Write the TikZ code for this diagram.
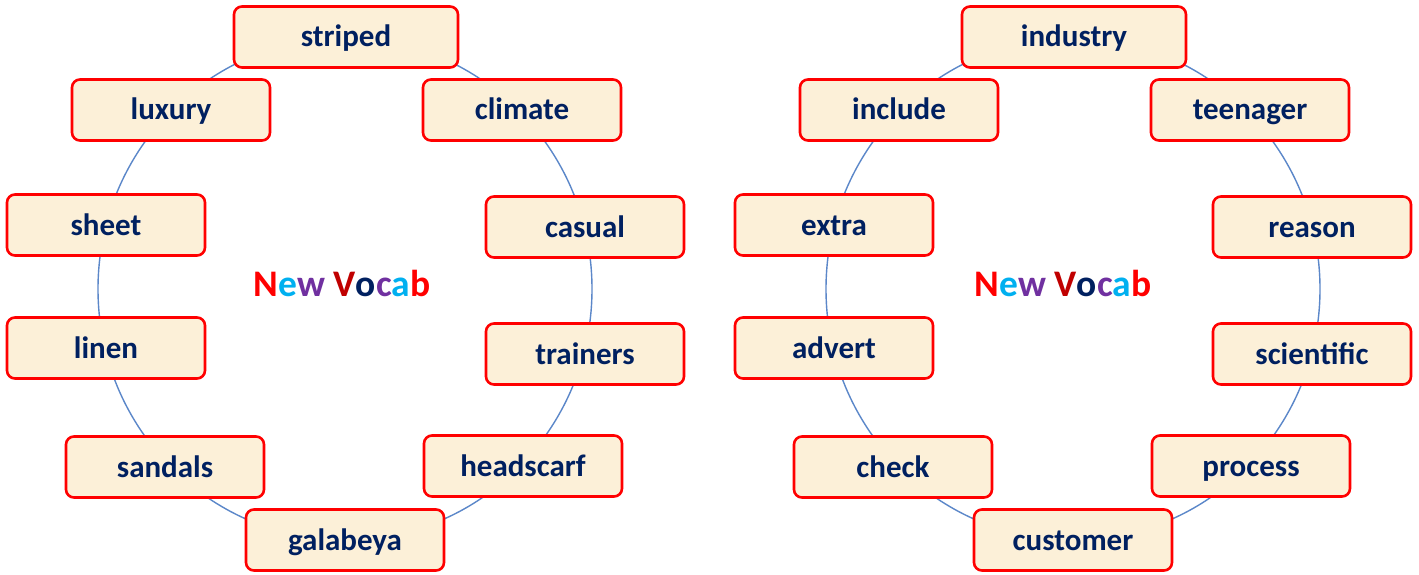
\documentclass[tikz,border=0pt]{standalone}
\usepackage{fontspec}
\setmainfont{Carlito}
\definecolor{navy}{HTML}{002060}
\definecolor{boxfill}{RGB}{252,240,216}
\definecolor{ringblue}{HTML}{5B87C9}
\definecolor{vred}{HTML}{FF0000}
\definecolor{vblue}{HTML}{00B0F0}
\definecolor{vpurple}{HTML}{7030A0}
\definecolor{vdred}{HTML}{C00000}
\begin{document}
\begin{tikzpicture}[x=1pt,y=-1pt,
  word/.style={draw=red, line width=2.6pt, fill=boxfill, rounded corners=8pt,
    minimum width=198pt, minimum height=61pt, inner sep=0pt,
    text height=22.5pt, text depth=2.5pt,
    font=\fontsize{31}{36}\selectfont\bfseries, text=navy},
  wide/.style={minimum width=224pt},
  ring/.style={draw=ringblue, line width=1.4pt},
  title/.style={font=\fontsize{37.5}{42}\selectfont\bfseries}]
\useasboundingbox (0,0) rectangle (1419,575);
\fill[white] (0,0) rectangle (1419,575);
% rings
\draw[ring] (345,289) ellipse [x radius=247, y radius=251];
\draw[ring] (1073,289) ellipse [x radius=247, y radius=251];
% left
\node[word,wide] (striped) at (346,37) {striped};
\node[word] (luxury) at (171,110) {luxury};
\node[word] (climate) at (522,110) {climate};
\node[word] (sheet) at (106,225) {sheet};
\node[word] (casual) at (585,227) {casual};
\node[word] (linen) at (106,348) {linen};
\node[word] (trainers) at (585,354) {trainers};
\node[word] (sandals) at (165,467) {sandals};
\node[word] (headscarf) at (523,466) {headscarf};
\node[word] (galabeya) at (345,540) {galabeya};
\node[title] (t1) at (342,283) {\textcolor{vred}{N}\textcolor{vblue}{e}\textcolor{vpurple}{w} \textcolor{vdred}{V}\textcolor{navy}{o}\textcolor{vpurple}{c}\textcolor{vblue}{a}\textcolor{vred}{b}};
% right
\node[word,wide] (industry) at (1074,37) {industry};
\node[word] (include) at (899,110) {include};
\node[word] (teenager) at (1250,110) {teenager};
\node[word] (extra) at (834,225) {extra};
\node[word] (reason) at (1312,227) {reason};
\node[word] (advert) at (834,348) {advert};
\node[word] (scientific) at (1312,354) {scientific};
\node[word] (check) at (893,467) {check};
\node[word] (process) at (1251,466) {process};
\node[word] (customer) at (1073,540) {customer};
\node[title] (t2) at (1063,283) {\textcolor{vred}{N}\textcolor{vblue}{e}\textcolor{vpurple}{w} \textcolor{vdred}{V}\textcolor{navy}{o}\textcolor{vpurple}{c}\textcolor{vblue}{a}\textcolor{vred}{b}};
\end{tikzpicture}
\end{document}
